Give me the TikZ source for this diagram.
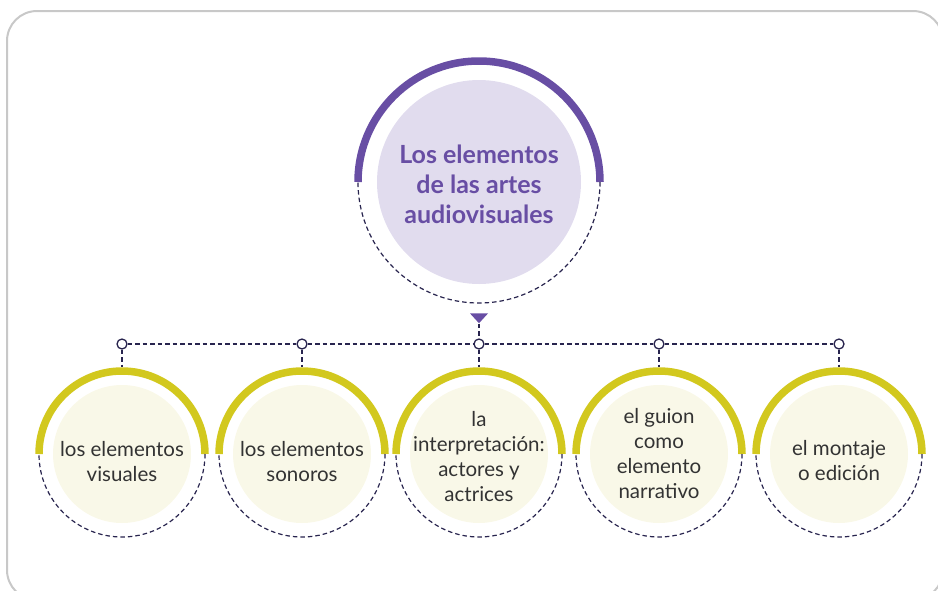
\documentclass[tikz,border=0pt]{standalone}
\usepackage{fontspec}
\setmainfont{Lato}
\usetikzlibrary{shapes.geometric,positioning}
\definecolor{purp}{RGB}{104,78,164}
\definecolor{lavender}{RGB}{225,220,238}
\definecolor{olive}{RGB}{210,200,30}
\definecolor{cream}{RGB}{249,248,232}
\definecolor{navy}{RGB}{40,36,78}
\definecolor{framegray}{RGB}{200,200,200}
\definecolor{txtgray}{RGB}{51,51,51}
\newcommand{\lowerby}[1]{\rule{0pt}{#1}}
\begin{document}
\begin{tikzpicture}[x=1pt,y=1pt,
		linkdash/.style={navy, line width=1.2pt, dash pattern=on 4.5pt off 3pt},
		topic/.style={circle, minimum size=250pt, inner sep=0pt, align=center, text=purp, font=\fontsize{25}{30}\selectfont\bfseries},
		ring/.style={circle, minimum size=174pt, inner sep=0pt, align=center, text=txtgray, font=\fontsize{20.5}{25}\selectfont},
		dot/.style={circle, draw=navy, fill=white, line width=1.3pt, minimum size=10pt, inner sep=0pt},
		tip/.style={isosceles triangle, isosceles triangle apex angle=85, shape border rotate=270, fill=purp, minimum width=18pt, inner sep=0pt}]
		\path [use as bounding box] ( 0, 0 ) rectangle ( 938, -590 );
		\clip ( 0, 0 ) rectangle ( 938, -590 );
		\draw [framegray, line width=2pt, rounded corners=30pt] ( 7, -11 ) rectangle ( 943, -600 );
		% main circle
		\fill [lavender] ( 479, -182 ) circle ( 102 );
		\draw [purp, line width=7.5pt] ( 600, -182 ) arc ( 0:180:121 );
		\draw [linkdash] ( 600, -182 ) arc ( 0:-180:121 );
		\node [topic] (main) at ( 479, -182 ) {\lowerby{23pt}Los elementos\\de las artes\\audiovisuales};
		\node [tip, below=6pt of main] (arrow) {};
		% sub circles
		\fill [cream] ( 122, -454 ) circle ( 69 );
		\draw [olive, line width=7.5pt] ( 205, -454 ) arc ( 0:180:83 );
		\draw [linkdash] ( 205, -454 ) arc ( 0:-180:83 );
		\node [ring] (visual) at ( 122, -454 ) {\lowerby{30pt}los elementos\\visuales};
		\fill [cream] ( 302, -454 ) circle ( 69 );
		\draw [olive, line width=7.5pt] ( 385, -454 ) arc ( 0:180:83 );
		\draw [linkdash] ( 385, -454 ) arc ( 0:-180:83 );
		\node [ring] (sonoro) at ( 302, -454 ) {\lowerby{30pt}los elementos\\sonoros};
		\fill [cream] ( 479, -454 ) circle ( 69 );
		\draw [olive, line width=7.5pt] ( 562, -454 ) arc ( 0:180:83 );
		\draw [linkdash] ( 562, -454 ) arc ( 0:-180:83 );
		\node [ring] (actor) at ( 479, -454 ) {\lowerby{20pt}la\\interpretación:\\actores y\\actrices};
		\fill [cream] ( 659, -454 ) circle ( 69 );
		\draw [olive, line width=7.5pt] ( 742, -454 ) arc ( 0:180:83 );
		\draw [linkdash] ( 742, -454 ) arc ( 0:-180:83 );
		\node [ring] (guion) at ( 659, -454 ) {el guion\\como\\elemento\\narrativo};
		\fill [cream] ( 839, -454 ) circle ( 69 );
		\draw [olive, line width=7.5pt] ( 922, -454 ) arc ( 0:180:83 );
		\draw [linkdash] ( 922, -454 ) arc ( 0:-180:83 );
		\node [ring] (montaje) at ( 839, -454 ) {\lowerby{28pt}el montaje\\o edición};
		% markers and links
		\node [dot] (d1) at ( 122, -344 ) {};
		\node [dot] (d2) at ( 302, -344 ) {};
		\node [dot] (d3) at ( 479, -344 ) {};
		\node [dot] (d4) at ( 659, -344 ) {};
		\node [dot] (d5) at ( 839, -344 ) {};
		\draw [linkdash] (arrow) -- (d3);
		\draw [linkdash] (d1) -- (d2) -- (d3) -- (d4) -- (d5);
		\draw [linkdash] (d1) -- (visual);
		\draw [linkdash] (d2) -- (sonoro);
		\draw [linkdash] (d3) -- (actor);
		\draw [linkdash] (d4) -- (guion);
		\draw [linkdash] (d5) -- (montaje);
	\end{tikzpicture}
\end{document}
